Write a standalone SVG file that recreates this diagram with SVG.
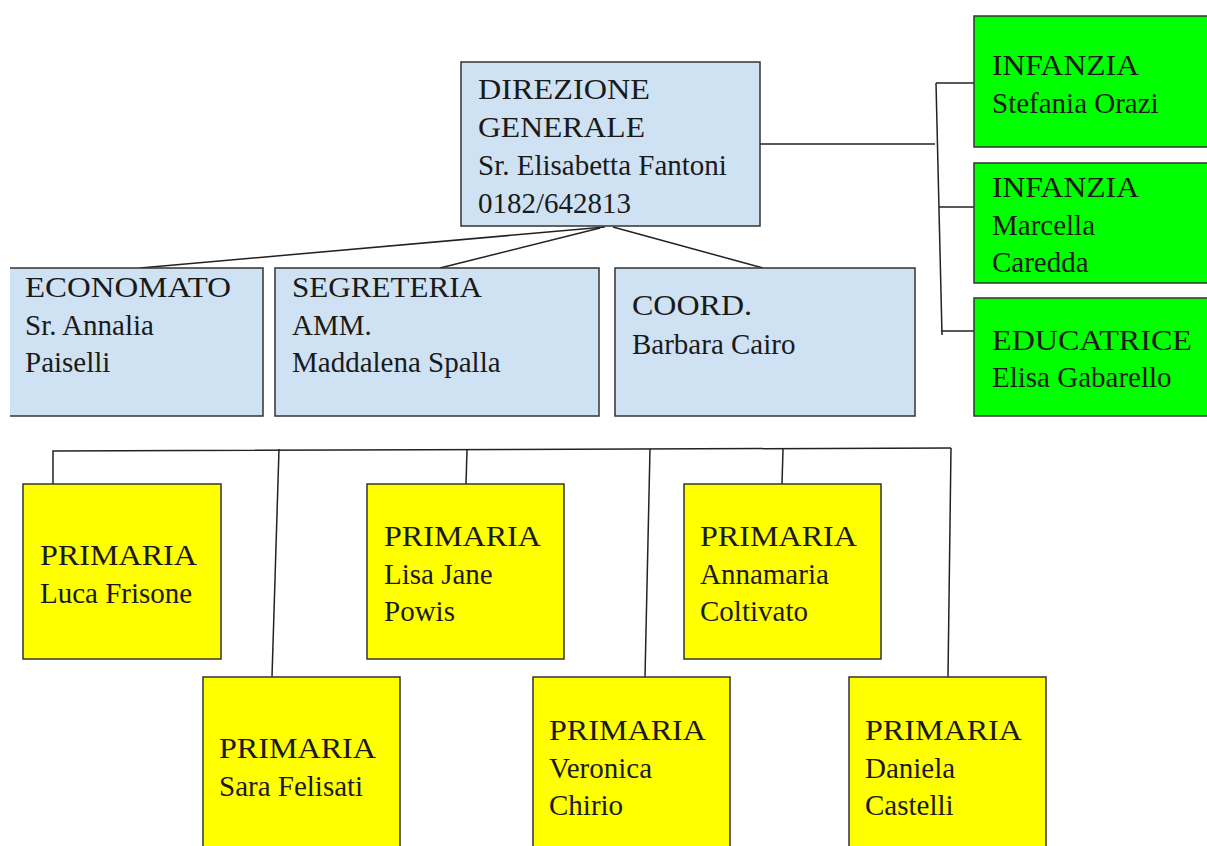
<svg xmlns="http://www.w3.org/2000/svg" width="1207" height="846" viewBox="0 0 1207 846">
<style>
.blue{fill:#cfe2f3;stroke:#333;stroke-width:1.5}
.green{fill:#00ff00;stroke:#333;stroke-width:1.5}
.yellow{fill:#ffff00;stroke:#333;stroke-width:1.5}
.t{font-family:"Liberation Serif","DejaVu Serif",serif;font-size:29px;fill:#1a1a1a}
.c{fill:none;stroke:#222;stroke-width:1.5}
</style>
<rect width="1207" height="846" fill="#fff"/>
<g id="connectors">
<line class="c" x1="605" y1="227" x2="140" y2="268"/>
<line class="c" x1="600" y1="228" x2="440" y2="268"/>
<line class="c" x1="613" y1="227" x2="763" y2="268"/>
<line class="c" x1="760" y1="144" x2="935" y2="144"/>
<line class="c" x1="936" y1="83" x2="942" y2="335"/>
<line class="c" x1="936" y1="83" x2="974" y2="83"/>
<line class="c" x1="939" y1="207" x2="974" y2="207"/>
<line class="c" x1="941" y1="331" x2="974" y2="331"/>
<polyline class="c" points="53,484 53,451 951,448"/>
<line class="c" x1="279" y1="449" x2="272" y2="677"/>
<line class="c" x1="467" y1="450" x2="466" y2="484"/>
<line class="c" x1="650" y1="449" x2="645" y2="677"/>
<line class="c" x1="783" y1="449" x2="782" y2="484"/>
<line class="c" x1="951" y1="448" x2="948" y2="677"/>
</g>
<g id="direzione">
<rect class="blue" x="461" y="62" width="299" height="164"/>
<text class="t" x="478" y="99" textLength="172" lengthAdjust="spacingAndGlyphs">DIREZIONE</text>
<text class="t" x="478" y="137" textLength="167" lengthAdjust="spacingAndGlyphs">GENERALE</text>
<text class="t" x="478" y="175">Sr. Elisabetta Fantoni</text>
<text class="t" x="478" y="213">0182/642813</text>
</g>
<g id="economato">
<rect x="10" y="268" width="253" height="148" fill="#cfe2f3"/>
<path class="c" d="M10,268 H263 V416 H10" style="stroke:#333"/>
<text class="t" x="25" y="297" textLength="206" lengthAdjust="spacingAndGlyphs">ECONOMATO</text>
<text class="t" x="25" y="335">Sr. Annalia</text>
<text class="t" x="25" y="372">Paiselli</text>
</g>
<g id="segreteria">
<rect class="blue" x="275" y="268" width="324" height="148"/>
<text class="t" x="292" y="297" textLength="190" lengthAdjust="spacingAndGlyphs">SEGRETERIA</text>
<text class="t" x="292" y="335">AMM.</text>
<text class="t" x="292" y="372">Maddalena Spalla</text>
</g>
<g id="coord">
<rect class="blue" x="615" y="268" width="300" height="148"/>
<text class="t" x="632" y="315" textLength="120" lengthAdjust="spacingAndGlyphs">COORD.</text>
<text class="t" x="632" y="354">Barbara Cairo</text>
</g>
<g id="infanzia1">
<rect class="green" x="974" y="16" width="240" height="131"/>
<text class="t" x="992" y="75" textLength="147" lengthAdjust="spacingAndGlyphs">INFANZIA</text>
<text class="t" x="992" y="113">Stefania Orazi</text>
</g>
<g id="infanzia2">
<rect class="green" x="974" y="163" width="240" height="120"/>
<text class="t" x="992" y="197" textLength="147" lengthAdjust="spacingAndGlyphs">INFANZIA</text>
<text class="t" x="992" y="235">Marcella</text>
<text class="t" x="992" y="272">Caredda</text>
</g>
<g id="educatrice">
<rect class="green" x="974" y="298" width="240" height="118"/>
<text class="t" x="992" y="350" textLength="200" lengthAdjust="spacingAndGlyphs">EDUCATRICE</text>
<text class="t" x="992" y="387">Elisa Gabarello</text>
</g>
<g id="primaria-frisone">
<rect class="yellow" x="23" y="484" width="198" height="175"/>
<text class="t" x="40" y="565" textLength="157" lengthAdjust="spacingAndGlyphs">PRIMARIA</text>
<text class="t" x="40" y="603">Luca Frisone</text>
</g>
<g id="primaria-powis">
<rect class="yellow" x="367" y="484" width="197" height="175"/>
<text class="t" x="384" y="546" textLength="157" lengthAdjust="spacingAndGlyphs">PRIMARIA</text>
<text class="t" x="384" y="584">Lisa Jane</text>
<text class="t" x="384" y="621">Powis</text>
</g>
<g id="primaria-coltivato">
<rect class="yellow" x="684" y="484" width="197" height="175"/>
<text class="t" x="700" y="546" textLength="157" lengthAdjust="spacingAndGlyphs">PRIMARIA</text>
<text class="t" x="700" y="584">Annamaria</text>
<text class="t" x="700" y="621">Coltivato</text>
</g>
<g id="primaria-felisati">
<rect class="yellow" x="203" y="677" width="197" height="180"/>
<text class="t" x="219" y="758" textLength="157" lengthAdjust="spacingAndGlyphs">PRIMARIA</text>
<text class="t" x="219" y="796">Sara Felisati</text>
</g>
<g id="primaria-chirio">
<rect class="yellow" x="533" y="677" width="197" height="180"/>
<text class="t" x="549" y="740" textLength="157" lengthAdjust="spacingAndGlyphs">PRIMARIA</text>
<text class="t" x="549" y="778">Veronica</text>
<text class="t" x="549" y="815">Chirio</text>
</g>
<g id="primaria-castelli">
<rect class="yellow" x="849" y="677" width="197" height="180"/>
<text class="t" x="865" y="740" textLength="157" lengthAdjust="spacingAndGlyphs">PRIMARIA</text>
<text class="t" x="865" y="778">Daniela</text>
<text class="t" x="865" y="815">Castelli</text>
</g>
</svg>
